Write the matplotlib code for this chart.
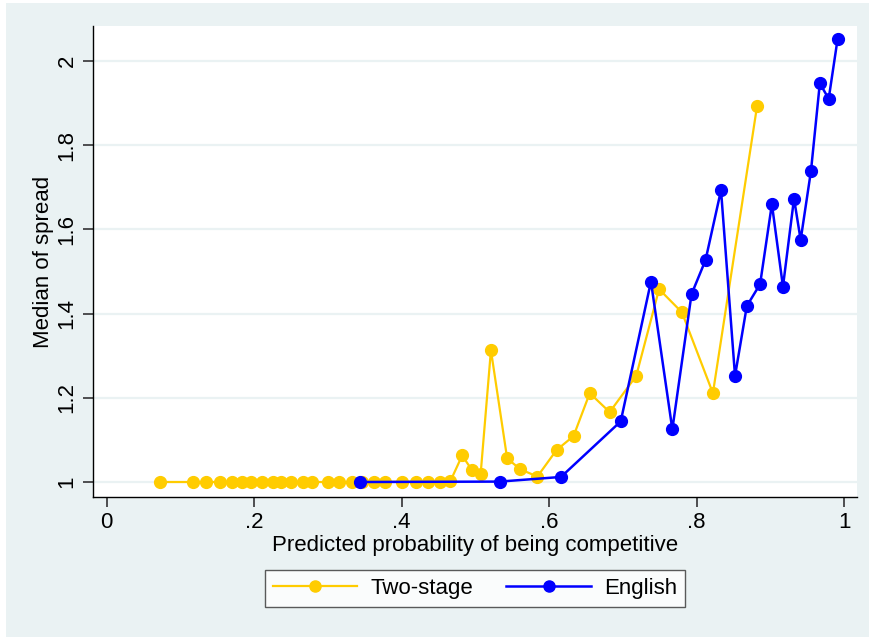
import matplotlib
matplotlib.use("Agg")
import matplotlib.pyplot as plt
from matplotlib.patches import Rectangle

plt.rcParams['font.family'] = ['Liberation Sans', 'DejaVu Sans']

# Two-stage auction
two_stage_x = [0.072, 0.117, 0.134, 0.154, 0.170, 0.184, 0.195, 0.210, 0.225, 0.237,
               0.250, 0.266, 0.279, 0.300, 0.315, 0.332, 0.346, 0.362, 0.378, 0.400,
               0.420, 0.436, 0.452, 0.466, 0.482, 0.495, 0.507, 0.521, 0.543, 0.561,
               0.584, 0.610, 0.633, 0.655, 0.682, 0.718, 0.749, 0.780, 0.822, 0.882]
two_stage_y = [1.000, 1.000, 1.000, 1.000, 1.000, 1.000, 1.000, 1.000, 1.000, 1.000,
               1.000, 1.000, 1.000, 1.000, 1.000, 1.000, 1.000, 1.000, 1.000, 1.001,
               1.001, 1.001, 1.000, 1.002, 1.063, 1.029, 1.018, 1.313, 1.056, 1.030,
               1.013, 1.076, 1.109, 1.211, 1.166, 1.252, 1.458, 1.403, 1.211, 1.894]

# English auction
english_x = [0.343, 0.533, 0.616, 0.697, 0.738, 0.767, 0.793, 0.812, 0.833, 0.852,
             0.868, 0.886, 0.902, 0.917, 0.932, 0.941, 0.955, 0.967, 0.979, 0.991]
english_y = [1.000, 1.001, 1.012, 1.144, 1.476, 1.125, 1.446, 1.527, 1.693, 1.252,
             1.418, 1.470, 1.660, 1.464, 1.673, 1.575, 1.739, 1.947, 1.910, 2.051]

x_ticks = [0, 0.2, 0.4, 0.6, 0.8, 1.0]
x_tick_labels = ["0", ".2", ".4", ".6", ".8", "1"]
y_ticks = [1.0, 1.2, 1.4, 1.6, 1.8, 2.0]
y_tick_labels = ["1", "1.2", "1.4", "1.6", "1.8", "2"]

bg = "#EAF2F3"
gold = "#FFCC00"
blue = "#0000FF"
fs = 16

W, H = 870, 637
fig = plt.figure(figsize=(W / 100, H / 100), dpi=100, facecolor="white")
fig.patches.append(Rectangle((6 / W, 0), 1 - 6 / W, 1 - 3 / H, transform=fig.transFigure,
                             facecolor=bg, edgecolor="none", zorder=-10))

ax = fig.add_axes([93 / W, 1 - 497 / H, (857 - 93) / W, (497 - 26) / H])
ax.set_facecolor("white")

ax.plot(two_stage_x, two_stage_y, color=gold, lw=1.6, marker="o", ms=8.5,
        mec=gold, mfc=gold, label="Two-stage", zorder=3)
ax.plot(english_x, english_y, color=blue, lw=1.8, marker="o", ms=8.5,
        mec=blue, mfc=blue, label="English", zorder=4)

ax.set_xlim(-0.0186, 1.0174)
ax.set_ylim(0.9644, 2.083)
ax.set_xticks(x_ticks)
ax.set_xticklabels(x_tick_labels)
ax.set_yticks(y_ticks)
ax.set_yticklabels(y_tick_labels, rotation=90, va="center")
ax.tick_params(axis="both", direction="out", length=7, width=1.2, labelsize=fs,
               color="#333333", pad=4)
ax.yaxis.grid(True, color=bg, lw=1.6, zorder=0)
ax.set_axisbelow(True)

for s in ["top", "right"]:
    ax.spines[s].set_visible(False)
for s in ["left", "bottom"]:
    ax.spines[s].set_color("black")
    ax.spines[s].set_linewidth(1.0)

ax.set_xlabel("Predicted probability of being competitive", fontsize=fs, labelpad=1)
ax.set_ylabel("Median of spread", fontsize=fs, labelpad=2)

leg = fig.legend(loc="center", bbox_to_anchor=(475 / W, 1 - 588.5 / H), ncol=2,
                 fontsize=fs, frameon=True, fancybox=False, handlelength=3.8,
                 columnspacing=1.5, handletextpad=0.6, borderpad=0.35, numpoints=1)
leg.get_frame().set_edgecolor("#333333")
leg.get_frame().set_linewidth(1.0)
for h in leg.legend_handles:
    h.set_markersize(8)

fig.savefig("out.png", dpi=100, facecolor=fig.get_facecolor())
